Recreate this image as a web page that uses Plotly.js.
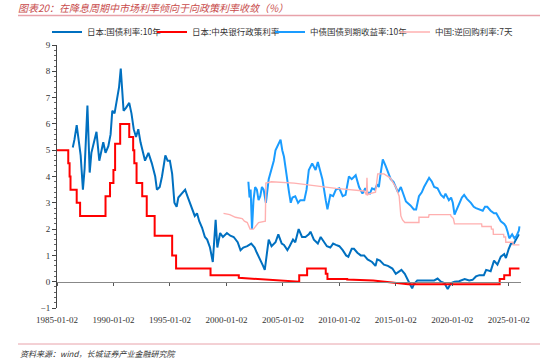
<!DOCTYPE html>
<html>
<head>
<meta charset="utf-8">
<script src="https://cdn.plot.ly/plotly-3.0.1.min.js"></script>
<style>html,body{margin:0;padding:0;background:#fff;}#chart{width:550px;height:362px;}</style>
</head>
<body>
<div id="chart"></div>
<script>
// ---- data (x in decimal years, y in %) ----
const seriesNames = ["日本:国债利率:10年", "日本:中央银行政策利率", "中债国债到期收益率:10年", "中国:逆回购利率:7天"];

const jp10Years = [1986.4,1986.55,1986.75,1986.9,1987.1,1987.3,1987.45,1987.7,1987.9,1988.05,1988.2,1988.5,1988.75,1989.1,1989.3,1989.55,1989.75,1989.9,1990.1,1990.3,1990.5,1990.65,1990.8,1990.9,1991.1,1991.4,1991.6,1991.8,1992.0,1992.2,1992.4,1992.55,1992.8,1993.1,1993.4,1993.7,1993.85,1994.1,1994.3,1994.6,1994.8,1995.0,1995.2,1995.4,1995.6,1995.75,1996.05,1996.35,1996.6,1996.95,1997.2,1997.4,1997.6,1997.85,1998.1,1998.3,1998.55,1998.8,1998.95,1999.05,1999.2,1999.45,1999.7,2000.05,2000.35,2000.65,2001.0,2001.25,2001.5,2001.85,2002.2,2002.5,2002.7,2003.0,2003.25,2003.4,2003.6,2003.75,2004.0,2004.35,2004.6,2004.9,2005.1,2005.4,2005.6,2005.9,2006.1,2006.4,2006.7,2007.0,2007.3,2007.45,2007.75,2008.1,2008.35,2008.5,2008.9,2009.2,2009.45,2009.7,2010.0,2010.3,2010.6,2010.8,2011.1,2011.3,2011.6,2011.9,2012.2,2012.5,2012.9,2013.2,2013.35,2013.6,2013.95,2014.3,2014.7,2015.0,2015.15,2015.5,2015.8,2016.0,2016.2,2016.45,2016.6,2016.9,2017.3,2017.65,2018.0,2018.4,2018.7,2019.0,2019.3,2019.6,2019.9,2020.2,2020.6,2021.1,2021.5,2021.8,2022.1,2022.4,2022.8,2023.0,2023.4,2023.7,2024.0,2024.3,2024.6,2024.75,2025.0,2025.2,2025.45,2025.65,2025.9];
const jp10Vals  = [5.1,5.4,5.95,5.5,4.8,3.5,4.3,6.7,4.15,4.9,5.2,5.7,4.6,5.3,4.9,5.15,5.6,6.5,6.4,6.85,7.4,8.1,7.2,6.5,6.6,6.8,6.4,5.8,5.5,5.8,5.3,5.0,4.6,4.9,4.5,4.0,3.5,3.6,4.0,4.8,4.6,4.6,4.1,3.0,2.85,3.2,3.35,3.5,3.2,2.8,2.5,2.6,2.3,2.05,1.7,1.6,1.3,0.75,1.7,2.35,1.3,1.85,1.7,1.85,1.75,1.7,1.5,1.2,1.3,1.35,1.45,1.3,1.1,0.85,0.6,0.45,1.1,1.6,1.35,1.5,1.8,1.45,1.4,1.2,1.35,1.6,1.5,2.0,1.7,1.7,1.8,1.9,1.6,1.45,1.7,1.6,1.35,1.3,1.45,1.4,1.35,1.2,1.0,0.95,1.25,1.25,1.1,1.0,1.0,0.85,0.75,0.6,0.85,0.8,0.65,0.6,0.5,0.3,0.35,0.45,0.3,0.1,-0.05,-0.25,-0.1,0.05,0.05,0.05,0.05,0.05,0.12,0.0,-0.05,-0.28,-0.05,0.0,0.02,0.1,0.05,0.07,0.2,0.25,0.25,0.45,0.4,0.8,0.65,0.95,1.05,0.9,1.25,1.45,1.45,1.6,1.8];

const jpPolicyYears = [1985.0,1986.0,1986.0,1986.12,1986.12,1986.2,1986.2,1986.75,1986.75,1987.05,1987.05,1989.3,1989.3,1989.7,1989.7,1990.0,1990.0,1990.15,1990.15,1990.6,1990.6,1991.4,1991.4,1991.75,1991.75,1991.85,1991.85,1992.05,1992.05,1992.55,1992.55,1992.95,1992.95,1993.65,1993.65,1995.2,1995.2,1995.55,1995.55,1998.6,1998.6,2001.1,2001.1,2006.4,2006.45,2006.45,2007.15,2007.15,2008.8,2008.8,2008.95,2008.95,2010.7,2010.7,2013.0,2016.1,2024.2,2024.2,2024.6,2024.6,2025.1,2025.1,2025.95];
const jpPolicyVals  = [5.0,5.0,4.5,4.5,4.0,4.0,3.5,3.5,3.0,3.0,2.5,2.5,3.25,3.25,3.75,3.75,4.25,4.25,5.25,5.25,6.0,6.0,5.5,5.5,5.0,5.0,4.5,4.5,3.75,3.75,3.25,3.25,2.5,2.5,1.75,1.75,1.0,1.0,0.5,0.5,0.25,0.25,0.15,0.0,0.0,0.25,0.25,0.5,0.5,0.3,0.3,0.1,0.1,0.08,0.05,-0.1,-0.1,0.1,0.1,0.25,0.25,0.5,0.5];

const cn10Years = [2001.95,2002.05,2002.15,2002.27,2002.4,2002.55,2002.7,2002.85,2003.0,2003.15,2003.3,2003.5,2003.75,2004.05,2004.2,2004.35,2004.6,2004.8,2004.95,2005.1,2005.25,2005.4,2005.55,2005.7,2005.85,2006.1,2006.35,2006.55,2006.9,2007.1,2007.3,2007.6,2007.9,2008.1,2008.3,2008.5,2008.8,2008.95,2009.2,2009.45,2009.7,2010.0,2010.3,2010.55,2010.85,2011.1,2011.45,2011.75,2012.05,2012.3,2012.5,2012.7,2012.9,2013.15,2013.35,2013.5,2013.65,2013.85,2014.1,2014.3,2014.55,2014.8,2015.0,2015.2,2015.45,2015.7,2015.9,2016.3,2016.6,2016.8,2017.05,2017.3,2017.5,2017.95,2018.2,2018.4,2018.7,2019.0,2019.25,2019.4,2019.7,2019.9,2020.05,2020.2,2020.35,2020.6,2020.85,2021.05,2021.3,2021.65,2021.9,2022.1,2022.4,2022.7,2022.9,2023.1,2023.4,2023.7,2023.9,2024.1,2024.3,2024.6,2024.75,2024.9,2025.05,2025.3,2025.5,2025.7,2025.9,2025.95];
const cn10Vals  = [3.8,3.2,3.5,2.0,3.1,3.6,3.5,3.1,3.25,3.6,3.5,3.0,3.9,4.4,4.6,5.0,5.2,5.4,5.0,4.75,4.3,3.75,3.4,3.0,3.2,3.25,3.0,3.1,3.1,3.5,4.25,4.5,4.25,4.55,4.2,3.9,3.1,2.75,3.3,3.25,3.5,3.55,3.25,3.3,4.0,3.9,4.05,3.6,3.35,3.55,3.4,3.35,3.55,3.5,3.7,3.6,4.1,4.65,4.4,4.15,3.9,3.8,3.6,3.4,3.6,3.3,3.05,2.9,2.75,2.75,3.25,3.4,3.6,3.95,3.8,3.6,3.55,3.3,3.2,3.35,3.1,3.2,3.0,2.55,2.7,3.0,3.2,3.3,3.15,3.0,2.85,2.8,2.75,2.7,2.85,2.85,2.7,2.6,2.6,2.45,2.3,2.2,2.1,1.9,1.65,1.8,1.65,1.75,1.95,2.1];

const cnRepoYears = [1999.75,2000.3,2000.8,2001.4,2001.6,2001.85,2002.1,2002.4,2002.85,2003.3,2003.45,2003.5,2004.0,2006.0,2009.7,2012.2,2012.4,2012.45,2012.5,2012.7,2013.2,2013.4,2013.95,2014.5,2015.0,2015.3,2015.45,2015.6,2015.8,2017.05,2017.05,2017.9,2017.95,2019.85,2019.88,2020.1,2020.2,2022.6,2022.63,2023.45,2023.47,2023.62,2023.64,2024.55,2024.57,2024.72,2024.74,2025.37,2025.39,2025.95];
const cnRepoVals  = [2.6,2.55,2.45,2.4,2.3,2.25,2.0,2.0,2.25,2.3,2.3,3.75,3.8,3.75,3.55,3.45,3.3,3.95,3.3,3.35,3.4,4.1,4.1,3.95,3.6,3.25,2.5,2.35,2.25,2.25,2.45,2.45,2.55,2.55,2.5,2.4,2.2,2.2,2.1,2.1,2.0,2.0,1.8,1.8,1.7,1.7,1.5,1.5,1.4,1.4];

const xTickVals = ["1985-01-02","1990-01-02","1995-01-02","2000-01-02","2005-01-02","2010-01-02","2015-01-02","2020-01-02","2025-01-02"];
const xTickText = ["1985-01-02","1990-01-02","1995-01-02","2000-01-02","2005-01-02","2010-01-02","2015-01-02","2020-01-02","2025-01-02"];
const yTickVals = [-1,0,1,2,3,4,5,6,7,8,9];

// decimal year -> ISO date (unit conversion only)
function toDate(y){
  const yr = Math.floor(y), f = y - yr;
  const a = Date.UTC(yr,0,1), b = Date.UTC(yr+1,0,1);
  return new Date(a + f*(b-a)).toISOString().slice(0,10);
}

const colors = ["#0070C0","#FF0000","#1A9CFF","#FFB0B0"];
const legendIds = ["legend","legend2","legend3","legend4"];
const legendX = [47, 152, 270, 395];   // px positions of legend boxes
const cjk = '"Noto Sans CJK SC", sans-serif';
const serif = '"Liberation Serif", "DejaVu Serif", serif';

function mk(xs, ys, i, w){
  return {x: xs.map(toDate), y: ys, type:'scatter', mode:'lines', name: seriesNames[i],
          legend: legendIds[i], line:{color: colors[i], width: w}, hoverinfo:'skip'};
}

const data = [
  mk(jp10Years, jp10Vals, 0, 2),
  mk(jpPolicyYears, jpPolicyVals, 1, 2),
  mk(cn10Years, cn10Vals, 2, 2),
  mk(cnRepoYears, cnRepoVals, 3, 1.4)
];

const layout = {
  width: 550, height: 362,
  margin: {l:57, r:29, t:45, b:54},
  paper_bgcolor:'#fff', plot_bgcolor:'#fff',
  showlegend: true,
  title: {text:'图表20：在降息周期中市场利率倾向于向政策利率收敛（%）', xref:'container', yref:'container',
          x:18/550, xanchor:'left', y:1-8/362, yanchor:'middle',
          font:{family: cjk, size:10, color:'#C84B4B', style:'italic'}},
  xaxis: {type:'date', range:['1985-01-02','2026-02-01'], anchor:'free', position:0.1,
          showline:true, linecolor:'#888', linewidth:1, ticks:'outside', ticklen:3, tickcolor:'#555',
          tickvals: xTickVals, ticktext: xTickText, ticklabelstandoff:26,
          tickfont:{family: serif, size:9, color:'#333'}, showgrid:false, zeroline:false},
  yaxis: {range:[-1,9], tickvals: yTickVals, ticks:'outside', ticklen:4, tickcolor:'#444',
          showline:true, linecolor:'#444', linewidth:1, showgrid:false, zeroline:false,
          minor:{dtick:0.2, ticks:'outside', ticklen:2, tickcolor:'#666', showgrid:false},
          tickfont:{family: serif, size:9, color:'#333'}},
  shapes: [
    {type:'line', xref:'paper', yref:'paper', x0:(18-57)/464, x1:(540-57)/464, y0:(308-15.5)/263, y1:(308-15.5)/263,
     line:{color:'#E8A2AA', width:1.5}},
    {type:'line', xref:'paper', yref:'paper', x0:(18-57)/464, x1:(540-57)/464, y0:(308-344)/263, y1:(308-344)/263,
     line:{color:'#E8A2AA', width:1}}
  ],
  annotations: [
    {text:'资料来源：wind，长城证券产业金融研究院', xref:'paper', yref:'paper', x:(18-57)/464, xanchor:'left',
     y:(308-353)/263, yanchor:'middle', showarrow:false,
     font:{family: cjk, size:8, color:'#333', style:'italic'}}
  ]
};
legendIds.forEach((id, i) => {
  layout[id] = {orientation:'h', x:(legendX[i]-57)/464, xanchor:'left', y:(308-32)/263, yanchor:'middle',
                font:{family: cjk, size:8.5, color:'#333'}, itemwidth:30, bgcolor:'rgba(0,0,0,0)'};
});

Plotly.newPlot('chart', data, layout, {displayModeBar:false, staticPlot:true});
</script>
</body>
</html>
